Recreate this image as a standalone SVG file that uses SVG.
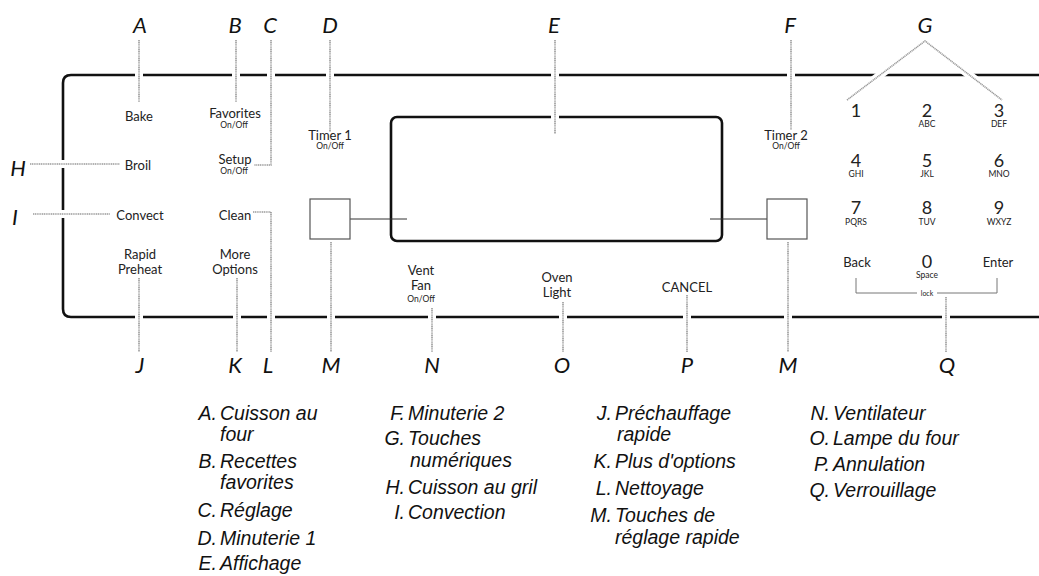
<svg xmlns="http://www.w3.org/2000/svg" width="1039" height="576" viewBox="0 0 1039 576">
<style>
.panel{fill:none;stroke:#111;stroke-width:2.6;stroke-linejoin:round}
.disp{fill:none;stroke:#111;stroke-width:2.6}
.sq{fill:#fff;stroke:#555;stroke-width:1.2}
.thin{fill:none;stroke:#333;stroke-width:1}
.gap{fill:none;stroke:#fff;stroke-width:8}
.lead{fill:none;stroke:#9a9a9a;stroke-width:1.6;stroke-dasharray:1.2 0.6}
.br{fill:none;stroke:#777;stroke-width:1}
.key{font-family:Lato,"Open Sans",sans-serif;font-size:13px;fill:#222;text-anchor:middle}
.sm{font-family:Lato,"Open Sans",sans-serif;font-size:8.5px;fill:#222;text-anchor:middle}
.dig{font-family:Lato,"Open Sans",sans-serif;font-size:18px;fill:#222;text-anchor:middle}
.let{font-family:Lato,"Liberation Sans",sans-serif;font-style:italic;font-size:22px;fill:#111;text-anchor:middle}
.lg{font-family:"Liberation Sans",Arial,sans-serif;font-style:italic;font-size:19.5px;fill:#111}
.lgl{font-family:"Liberation Sans",Arial,sans-serif;font-style:italic;font-size:19.5px;fill:#111;text-anchor:end}
</style>

<g id="panel">
<path class="panel" d="M1039,75 H71 Q63,75 63,83 V309 Q63,317 71,317 H1039"/>
</g>
<g id="display">
<rect class="disp" x="391" y="117" width="331" height="124" rx="6"/>
</g>
<g id="scroll-left">
<line class="thin" x1="350" y1="219" x2="407" y2="219"/>
<rect class="sq" x="310" y="199" width="40" height="40"/>
</g>
<g id="scroll-right">
<line class="thin" x1="710" y1="219" x2="767" y2="219"/>
<rect class="sq" x="767" y="199" width="40" height="40"/>
</g>

<g id="connectors">
<path class="gap" d="M139,40 V102"/><path class="lead" d="M139,40 V102"/>
<path class="gap" d="M236,40 V102"/><path class="lead" d="M236,40 V102"/>
<path class="gap" d="M271,40 V165"/><path class="lead" d="M271,40 V165 H254"/>
<path class="gap" d="M330,40 V132"/><path class="lead" d="M330,40 V132"/>
<path class="gap" d="M555,40 V134"/><path class="lead" d="M555,40 V134"/>
<path class="gap" d="M791,40 V130"/><path class="lead" d="M791,40 V130"/>
<path class="gap" d="M847,100 L925,41 L1002,100"/><path class="lead" d="M847,100 L925,41 L1002,100"/>
<path class="gap" d="M30,164 H120"/><path class="lead" d="M30,164 H120"/>
<path class="gap" d="M33,214 H110"/><path class="lead" d="M33,214 H110"/>
<path class="gap" d="M139,278 V352"/><path class="lead" d="M139,278 V352"/>
<path class="gap" d="M237,278 V352"/><path class="lead" d="M237,278 V352"/>
<path class="gap" d="M271,230 V352"/><path class="lead" d="M253,212 H271 V352"/>
<path class="gap" d="M331,244 V352"/><path class="lead" d="M331,242 V352"/>
<path class="gap" d="M432,308 V352"/><path class="lead" d="M432,308 V352"/>
<path class="gap" d="M563,302 V352"/><path class="lead" d="M563,302 V352"/>
<path class="gap" d="M687,295 V352"/><path class="lead" d="M687,295 V352"/>
<path class="gap" d="M788,244 V352"/><path class="lead" d="M788,242 V352"/>
<path class="gap" d="M946,297 V352"/><path class="lead" d="M946,297 V352"/>
<path class="br" d="M917,293 H856 V278 M937,293 H997 V278"/>
</g>

<g id="buttons">
<text class="key" x="139" y="121">Bake</text>
<text class="key" x="235" y="118">Favorites</text><text class="sm" x="234" y="128">On/Off</text>
<text class="key" x="235" y="164">Setup</text><text class="sm" x="234" y="174">On/Off</text>
<text class="key" x="330" y="140">Timer 1</text><text class="sm" x="330" y="149">On/Off</text>
<text class="key" x="786" y="140">Timer 2</text><text class="sm" x="786" y="149">On/Off</text>
<text class="key" x="138" y="170">Broil</text>
<text class="key" x="140" y="220">Convect</text>
<text class="key" x="235" y="220">Clean</text>
<text class="key" x="140" y="259">Rapid</text><text class="key" x="140" y="274">Preheat</text>
<text class="key" x="235" y="259">More</text><text class="key" x="235" y="274">Options</text>
<text class="key" x="421" y="275">Vent</text><text class="key" x="421" y="290">Fan</text><text class="sm" x="421" y="302">On/Off</text>
<text class="key" x="557" y="282">Oven</text><text class="key" x="557" y="297">Light</text>
<text class="key" x="687" y="292">CANCEL</text>
</g>

<g id="keypad">
<text class="dig" x="856" y="117">1</text>
<text class="dig" x="927" y="117">2</text><text class="sm" x="927" y="127">ABC</text>
<text class="dig" x="999" y="117">3</text><text class="sm" x="999" y="127">DEF</text>
<text class="dig" x="856" y="167">4</text><text class="sm" x="856" y="177">GHI</text>
<text class="dig" x="927" y="167">5</text><text class="sm" x="927" y="177">JKL</text>
<text class="dig" x="999" y="167">6</text><text class="sm" x="999" y="177">MNO</text>
<text class="dig" x="856" y="214">7</text><text class="sm" x="856" y="225">PQRS</text>
<text class="dig" x="927" y="214">8</text><text class="sm" x="927" y="225">TUV</text>
<text class="dig" x="999" y="214">9</text><text class="sm" x="999" y="225">WXYZ</text>
<text class="key" x="857" y="267">Back</text>
<text class="dig" x="927" y="268">0</text><text class="sm" x="927" y="278">Space</text>
<text class="key" x="998" y="267">Enter</text>
<text class="sm" x="927" y="296" style="font-size:7px">lock</text>
</g>

<g id="letters">
<text class="let" x="140" y="33">A</text>
<text class="let" x="235" y="33">B</text>
<text class="let" x="270" y="33">C</text>
<text class="let" x="330" y="33">D</text>
<text class="let" x="554" y="33">E</text>
<text class="let" x="790" y="33">F</text>
<text class="let" x="925" y="33">G</text>
<text class="let" x="18" y="176">H</text>
<text class="let" x="15" y="225">I</text>
<text class="let" x="140" y="373">J</text>
<text class="let" x="235" y="373">K</text>
<text class="let" x="268" y="373">L</text>
<text class="let" x="331" y="373">M</text>
<text class="let" x="432" y="373">N</text>
<text class="let" x="562" y="373">O</text>
<text class="let" x="687" y="373">P</text>
<text class="let" x="788" y="373">M</text>
<text class="let" x="947" y="373">Q</text>
</g>

<g id="legend">
<text class="lgl" x="217" y="420">A.</text><text class="lg" x="220" y="420">Cuisson au</text>
<text class="lg" x="220" y="441">four</text>
<text class="lgl" x="217" y="468">B.</text><text class="lg" x="220" y="468">Recettes</text>
<text class="lg" x="220" y="489">favorites</text>
<text class="lgl" x="217" y="517">C.</text><text class="lg" x="220" y="517">Réglage</text>
<text class="lgl" x="217" y="545">D.</text><text class="lg" x="220" y="545">Minuterie 1</text>
<text class="lgl" x="217" y="570">E.</text><text class="lg" x="220" y="570">Affichage</text>

<text class="lgl" x="405" y="420">F.</text><text class="lg" x="408" y="420">Minuterie 2</text>
<text class="lgl" x="405" y="445">G.</text><text class="lg" x="408" y="445">Touches</text>
<text class="lg" x="410" y="467">numériques</text>
<text class="lgl" x="405" y="494">H.</text><text class="lg" x="408" y="494">Cuisson au gril</text>
<text class="lgl" x="405" y="519">I.</text><text class="lg" x="408" y="519">Convection</text>

<text class="lgl" x="612" y="420">J.</text><text class="lg" x="615" y="420">Préchauffage</text>
<text class="lg" x="617" y="441">rapide</text>
<text class="lgl" x="612" y="468">K.</text><text class="lg" x="615" y="468">Plus d'options</text>
<text class="lgl" x="612" y="495">L.</text><text class="lg" x="615" y="495">Nettoyage</text>
<text class="lgl" x="612" y="522">M.</text><text class="lg" x="615" y="522">Touches de</text>
<text class="lg" x="615" y="544">réglage rapide</text>

<text class="lgl" x="830" y="420">N.</text><text class="lg" x="833" y="420">Ventilateur</text>
<text class="lgl" x="830" y="445">O.</text><text class="lg" x="833" y="445">Lampe du four</text>
<text class="lgl" x="830" y="471">P.</text><text class="lg" x="833" y="471">Annulation</text>
<text class="lgl" x="830" y="497">Q.</text><text class="lg" x="833" y="497">Verrouillage</text>
</g>
</svg>
